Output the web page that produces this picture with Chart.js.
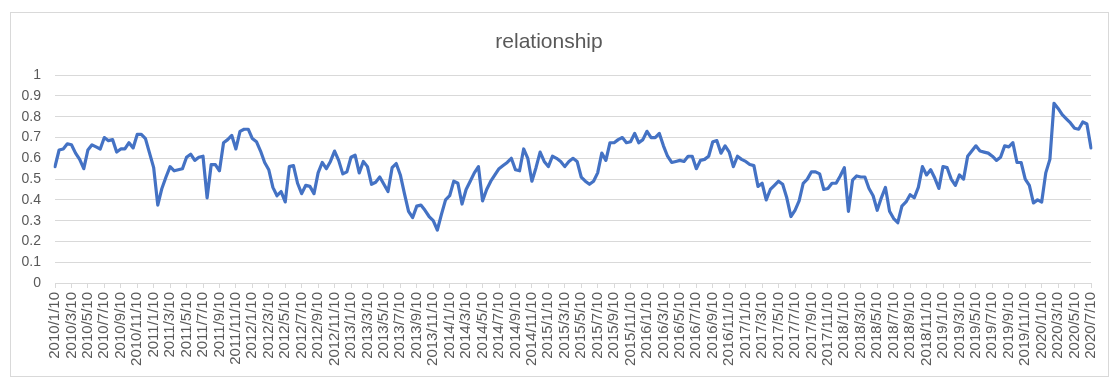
<!DOCTYPE html>
<html>
<head>
<meta charset="utf-8">
<script src="https://cdn.jsdelivr.net/npm/chart.js@4.4.1/dist/chart.umd.min.js"></script>
<style>
  html, body { margin: 0; padding: 0; background: #fff; }
  #wrap { position: relative; width: 1113px; height: 383px; }
</style>
</head>
<body>
<div id="wrap"><canvas id="chart" width="1113" height="383"></canvas></div>
<script>
// Title and axis range
const TITLE = "relationship";
const Y_MIN = 0, Y_MAX = 1, Y_STEP = 0.1;

// Category range: half-month steps, a tick label every 2 months
const START_YEAR = 2010, END_YEAR = 2020, END_MONTH = 7;
const DAYS = [10, 25];
const LABEL_EVERY = 4;

// Series values (one per half month)
const VALUES = [
  0.56, 0.64, 0.645, 0.67, 0.665, 0.625, 0.595, 0.55, 0.64, 0.665,
  0.655, 0.645, 0.70, 0.685, 0.69, 0.63, 0.645, 0.645, 0.675, 0.65,
  0.715, 0.715, 0.695, 0.625, 0.555, 0.375, 0.455, 0.51, 0.56, 0.54,
  0.545, 0.55, 0.605, 0.62, 0.59, 0.605, 0.61, 0.41, 0.57, 0.57,
  0.54, 0.675, 0.69, 0.71, 0.645, 0.73, 0.74, 0.74, 0.695, 0.68,
  0.635, 0.58, 0.545, 0.46, 0.42, 0.44, 0.39, 0.56, 0.565, 0.48,
  0.43, 0.47, 0.465, 0.43, 0.53, 0.58, 0.55, 0.585, 0.635, 0.59,
  0.525, 0.535, 0.605, 0.615, 0.53, 0.585, 0.56, 0.475, 0.485, 0.51,
  0.475, 0.44, 0.555, 0.575, 0.52, 0.43, 0.345, 0.315, 0.37, 0.375,
  0.35, 0.32, 0.30, 0.255, 0.33, 0.40, 0.42, 0.49, 0.48, 0.38,
  0.45, 0.49, 0.53, 0.56, 0.395, 0.45, 0.49, 0.52, 0.55, 0.565,
  0.58, 0.60, 0.545, 0.54, 0.645, 0.60, 0.49, 0.555, 0.63, 0.585,
  0.56, 0.61, 0.60, 0.585, 0.56, 0.585, 0.60, 0.585, 0.51, 0.49,
  0.475, 0.49, 0.53, 0.625, 0.59, 0.675, 0.675, 0.69, 0.70, 0.675,
  0.68, 0.72, 0.675, 0.69, 0.73, 0.70, 0.70, 0.72, 0.66, 0.61,
  0.58, 0.585, 0.59, 0.585, 0.61, 0.61, 0.55, 0.59, 0.595, 0.61,
  0.68, 0.685, 0.625, 0.66, 0.63, 0.56, 0.61, 0.595, 0.585, 0.57,
  0.565, 0.465, 0.48, 0.40, 0.45, 0.47, 0.49, 0.475, 0.41, 0.32,
  0.35, 0.395, 0.48, 0.50, 0.535, 0.535, 0.525, 0.45, 0.455, 0.48,
  0.48, 0.515, 0.555, 0.345, 0.495, 0.515, 0.51, 0.51, 0.455, 0.42,
  0.35, 0.41, 0.46, 0.345, 0.31, 0.29, 0.37, 0.39, 0.425, 0.41,
  0.46, 0.56, 0.52, 0.545, 0.505, 0.455, 0.56, 0.555, 0.50, 0.47,
  0.52, 0.50, 0.61, 0.635, 0.66, 0.635, 0.63, 0.625, 0.61, 0.59,
  0.605, 0.66, 0.655, 0.675, 0.58, 0.58, 0.50, 0.47, 0.385, 0.40,
  0.39, 0.53, 0.595, 0.865, 0.84, 0.81, 0.79, 0.77, 0.745, 0.74,
  0.775, 0.765, 0.65
];

// build the half-month categories: 2010/1/10, 2010/1/25, ... 2020/7/10
const categories = [];
for (let y = START_YEAR; y <= END_YEAR; y++) {
  for (let m = 1; m <= 12; m++) {
    for (const d of DAYS) {
      if (y === END_YEAR && (m > END_MONTH || (m === END_MONTH && d !== DAYS[0]))) continue;
      categories.push(`${y}/${m}/${d}`);
    }
  }
}

const GRID = '#d9d9d9';
const TEXT = '#595959';
const FONT = "'Liberation Sans', Arial, sans-serif";

// light frame round the whole chart, like the Excel chart area
const framePlugin = {
  id: 'frame',
  beforeDraw(chart) {
    const ctx = chart.ctx;
    ctx.save();
    ctx.fillStyle = '#fff';
    ctx.fillRect(0, 0, chart.width, chart.height);
    ctx.strokeStyle = GRID;
    ctx.lineWidth = 1;
    ctx.strokeRect(10.5, 12.5, 1098, 364);
    ctx.restore();
  }
};

new Chart(document.getElementById('chart'), {
  type: 'line',
  data: {
    labels: categories,
    datasets: [{
      label: TITLE,
      data: VALUES,
      borderColor: '#4472c4',
      borderWidth: 3.2,
      borderJoinStyle: 'round',
      borderCapStyle: 'round',
      pointRadius: 0,
      tension: 0,
      fill: false
    }]
  },
  options: {
    responsive: false,
    animation: false,
    layout: { padding: { left: 0, right: 15, top: 0, bottom: 0 } },
    plugins: {
      legend: { display: false },
      tooltip: { enabled: false },
      title: {
        display: true,
        text: TITLE,
        color: TEXT,
        font: { family: FONT, size: 21, weight: 'normal' },
        padding: { top: 30, bottom: 20 }
      }
    },
    scales: {
      x: {
        type: 'category',
        offset: false,
        afterFit: s => { s.height = 100; },
        grid: {
          drawOnChartArea: false,
          drawTicks: true,
          tickLength: 5,
          color: GRID
        },
        border: { display: true, color: GRID },
        ticks: {
          autoSkip: false,
          minRotation: 90,
          maxRotation: 90,
          padding: 4,
          color: TEXT,
          font: { family: FONT, size: 15 },
          callback: function (v, i) {
            return i % LABEL_EVERY === 0 ? this.getLabelForValue(v) : null;
          }
        }
      },
      y: {
        min: Y_MIN,
        max: Y_MAX,
        afterFit: s => { s.width = 55; },
        grid: { color: GRID, drawTicks: false },
        border: { display: false },
        ticks: {
          stepSize: Y_STEP,
          padding: 14,
          color: TEXT,
          font: { family: FONT, size: 14 },
          callback: v => Math.round(v * 10) / 10
        }
      }
    }
  },
  plugins: [framePlugin]
});
</script>
</body>
</html>
